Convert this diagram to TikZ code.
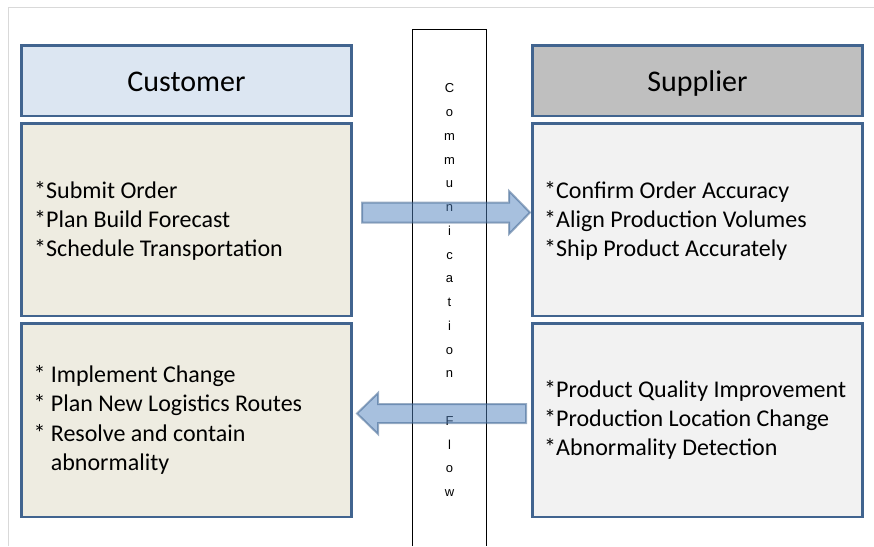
\documentclass[tikz,border=0pt]{standalone}
\usepackage{fontspec}
\setmainfont{Carlito}
\newfontfamily\columnfont{Liberation Sans}

\definecolor{framegray}{HTML}{D9D9D9}
\definecolor{boxline}{HTML}{41648F}
\definecolor{custhead}{HTML}{DCE6F2}
\definecolor{supphead}{HTML}{BFBFBF}
\definecolor{custbody}{HTML}{EEECE1}
\definecolor{suppbody}{HTML}{F2F2F2}
\definecolor{flowfill}{HTML}{4F81BD}
\definecolor{flowline}{HTML}{385D8A}

\tikzset{
  box/.style={draw=boxline, line width=2.6pt, inner sep=0pt, minimum width=330pt},
  headbox/.style={box, minimum height=70.5pt, text height=22pt, text depth=0pt,
    font=\fontsize{30}{36}\selectfont},
  listtext/.style={anchor=base west, inner sep=0pt,
    font=\fontsize{24}{29.2}\selectfont},
  flowarrow/.style={fill=flowfill, draw=flowline, line width=2pt, opacity=0.5}
}

\begin{document}
\begin{tikzpicture}[x=1pt,y=-1pt]

		\useasboundingbox (0,0) rectangle (874,546);
		\draw[framegray, line width=1] (8,546) -- (8,7) -- (874,7);

		% make the communication column
		\draw[line width=0.9] (412.7,546) -- (412.7,29) -- (486,29) -- (486,546);
		\node[anchor=north, align=center, inner sep=0pt,
			font=\columnfont\fontsize{13}{23.76}\selectfont] (comm) at (449.5,83.5)
			{C\\o\\m\\m\\u\\n\\i\\c\\a\\t\\i\\o\\n\\[23.76pt]F\\l\\o\\w};

		% make the customer boxes
		\node[headbox, fill=custhead] (custhead) at (186.5,80.75) {Customer};
		\node[box, fill=custbody, minimum height=192.5pt] (custtop) at (186.5,219.75) {};
		\node[box, fill=custbody, minimum height=193.5pt] (custbot) at (186.5,420.25) {};

		% make the supplier boxes
		\node[headbox, fill=supphead] (supphead) at (697.5,80.75) {Supplier};
		\node[box, fill=suppbody, minimum height=192.5pt] (supptop) at (697.5,219.75) {};
		\node[box, fill=suppbody, minimum height=193.5pt] (suppbot) at (697.5,420.25) {};

		% make the task lists (first baseline sits on the node's base)
		\node[listtext] (custorder) at (34,198.5)
			{\vtop{\hbox{*Submit Order}\hbox{*Plan Build Forecast}\hbox{*Schedule Transportation}}};
		\node[listtext] (custchange) at (33.3,382.7)
			{\vtop{\hbox{* Implement Change}\hbox{* Plan New Logistics Routes}\hbox{* Resolve and contain}\hbox{\hspace*{17.4pt}abnormality}}};
		\node[listtext] (supporder) at (544,198.5)
			{\vtop{\hbox{*Confirm Order Accuracy}\hbox{*Align Production Volumes}\hbox{*Ship Product Accurately}}};
		\node[listtext] (suppchange) at (544,397.3)
			{\vtop{\hbox{*Product Quality Improvement}\hbox{*Production Location Change}\hbox{*Abnormality Detection}}};

		% make the flow arrows
		\draw[flowarrow] (362,202.5) -- (509,202.5) -- (509,191) -- (530,212.5)
			-- (509,234) -- (509,222.5) -- (362,222.5) -- cycle;
		\draw[flowarrow] (526,404) -- (378,404) -- (378,393) -- (357,413.5)
			-- (378,434) -- (378,423) -- (526,423) -- cycle;

	\end{tikzpicture}
\end{document}
